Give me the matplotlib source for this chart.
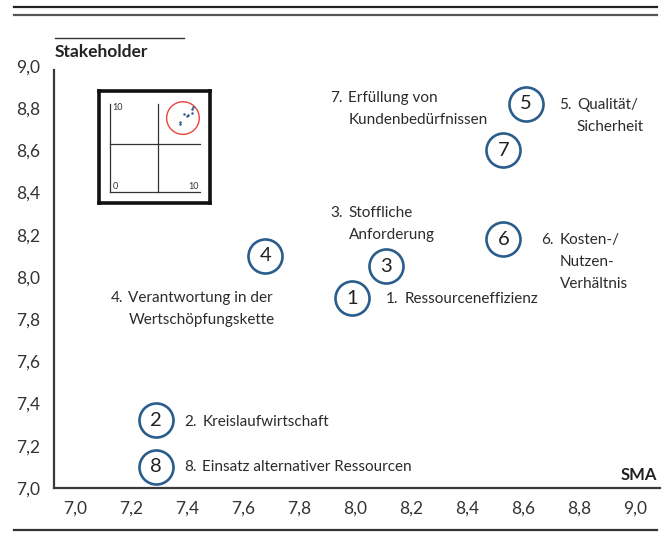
import matplotlib
matplotlib.use("Agg")
import matplotlib.pyplot as plt
from matplotlib.lines import Line2D
from matplotlib.patches import Circle

plt.rcParams['font.family'] = ['Lato', 'DejaVu Sans']

# ---------------------------------------------------------
# data (SMA vs. Stakeholder)
# ---------------------------------------------------------
ids = [1, 2, 3, 4, 5, 6, 7, 8]
names = [
    "Ressourceneffizienz",
    "Kreislaufwirtschaft",
    "Stoffliche\nAnforderung",
    "Verantwortung in der\nWertschöpfungskette",
    "Qualität/\nSicherheit",
    "Kosten-/\nNutzen-\nVerhältnis",
    "Erfüllung von\nKundenbedürfnissen",
    "Einsatz alternativer Ressourcen",
]
sma = [7.99, 7.29, 8.11, 7.68, 8.61, 8.53, 8.53, 7.29]
stakeholder = [7.90, 7.32, 8.05, 8.10, 8.82, 8.18, 8.60, 7.10]
ticks = [7.0, 7.2, 7.4, 7.6, 7.8, 8.0, 8.2, 8.4, 8.6, 8.8, 9.0]

# label offsets in pixels (prefix start, first line centre)
label_dx = [34, 28, -55, -155, 33, 38, -173, 28]
label_dy = [0, -1, 54, -41, 0, 0, 53, 1]
LINE_H = 22

BLUE = '#2a5d8c'
DARK = '#2b2b2b'

fig = plt.figure(figsize=(6.69, 5.40), dpi=100)
ax = fig.add_axes([54 / 669, 52 / 540, 606 / 669, 422 / 540])

ax.set_xlim(6.925, 9.089)
ax.set_ylim(7.0, 9.0)
ax.set_xticks(ticks)
ax.set_yticks(ticks)
fmt = lambda v: f"{v:.1f}".replace(".", ",")
ax.set_xticklabels([fmt(t) for t in ticks])
ax.set_yticklabels([fmt(t) for t in ticks])
ax.tick_params(axis='both', length=0, labelsize=12.5, labelcolor='#333333')
ax.tick_params(axis='y', pad=10)
ax.tick_params(axis='x', pad=9)

for s in ['top', 'right']:
    ax.spines[s].set_visible(False)
for s in ['left', 'bottom']:
    ax.spines[s].set_color('#3a3a3a')
    ax.spines[s].set_linewidth(1.6)
ax.spines['left'].set_bounds(7.0, 8.98)

# circles with numbers
ax.scatter(sma, stakeholder, s=24.5 ** 2, facecolor='white', edgecolor=BLUE,
           linewidth=1.9, zorder=3, clip_on=False)
for i, x, y in zip(ids, sma, stakeholder):
    ax.text(x, y, str(i), ha='center', va='center', fontsize=14.5,
            color='#222222', zorder=4)

# labels with hanging indent, one line at a time
for i, name, x, y, dx, dy in zip(ids, names, sma, stakeholder, label_dx, label_dy):
    ax.annotate(f"{i}.", (x, y), xytext=(dx, dy - 5), textcoords='offset pixels',
                ha='left', va='baseline', fontsize=11, color=DARK)
    for k, line in enumerate(name.split("\n")):
        ax.annotate(line, (x, y), xytext=(dx + 18, dy - 5 - k * LINE_H),
                    textcoords='offset pixels', ha='left', va='baseline',
                    fontsize=11, color=DARK)

ax.text(0.995, 0.012, "SMA", transform=ax.transAxes, ha='right', va='bottom',
        fontsize=12, fontweight='bold', color='#222222')
fig.text(55 / 669, 1 - 52 / 540, "Stakeholder", ha='left', va='center',
         fontsize=12.5, fontweight='bold', color='#222222')

# small overview inset
ins = fig.add_axes([99 / 669, 1 - 203 / 540, 111 / 669, 112 / 540])
ins.set_xlim(-1.15, 10.42)
ins.set_ylim(-1.15, 10.52)
ins.set_xticks([])
ins.set_yticks([])
for s in ins.spines.values():
    s.set_linewidth(2.6)
    s.set_color('#111111')
ins.plot([0, 0], [0, 9.2], color='#333333', lw=0.9)
ins.plot([0, 9.4], [0, 0], color='#333333', lw=0.9)
ins.plot([5, 5], [0, 9.2], color='#333333', lw=0.9)
ins.plot([0, 9.4], [5, 5], color='#333333', lw=0.9)
ins.scatter(sma, stakeholder, s=0.6, color=BLUE, zorder=3)
ins.add_patch(Circle((7.6, 7.7), 1.7, fill=False, edgecolor='#e8453c', lw=1.0))
ins.text(0.25, 8.8, "10", fontsize=6.5, color='#333333', ha='left', va='center')
ins.text(0.25, 0.6, "0", fontsize=6.5, color='#333333', ha='left', va='center')
ins.text(9.2, 0.6, "10", fontsize=6.5, color='#333333', ha='right', va='center')

# decorative rules
fig.add_artist(Line2D([14 / 669, 657 / 669], [1 - 7 / 540, 1 - 7 / 540],
                      color='#222222', lw=1.6))
fig.add_artist(Line2D([14 / 669, 657 / 669], [1 - 15 / 540, 1 - 15 / 540],
                      color='#555555', lw=1.6))
fig.add_artist(Line2D([55 / 669, 184 / 669], [1 - 38 / 540, 1 - 38 / 540],
                      color='#333333', lw=1.0))
fig.add_artist(Line2D([14 / 669, 657 / 669], [1 - 530 / 540, 1 - 530 / 540],
                      color='#333333', lw=1.6))

fig.savefig("out.png", dpi=100)
